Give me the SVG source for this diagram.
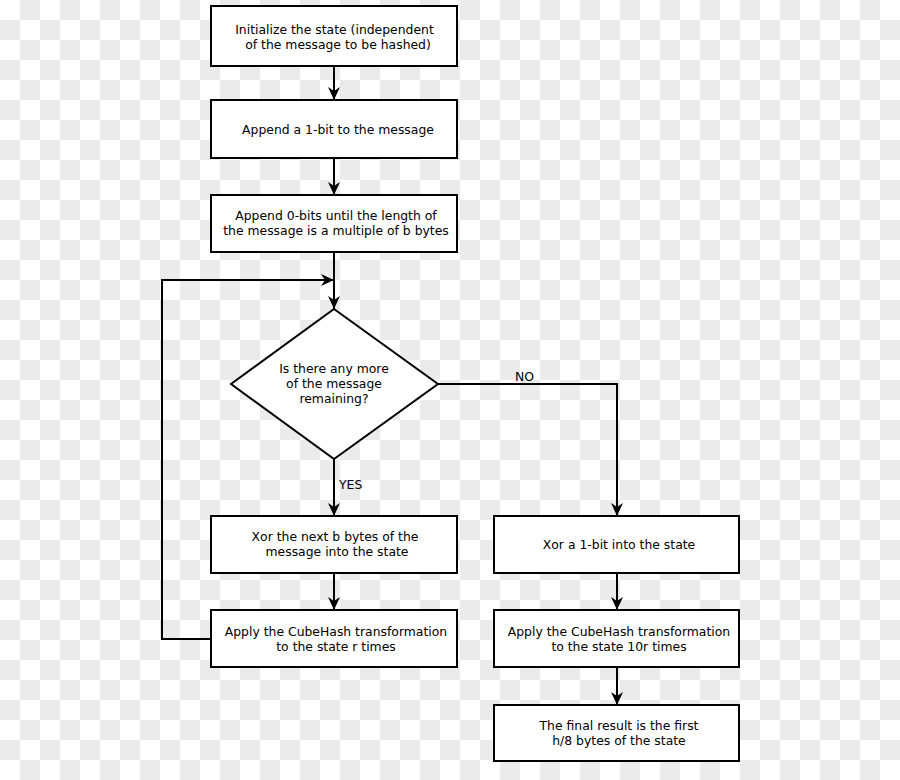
<svg xmlns="http://www.w3.org/2000/svg" width="900" height="780" viewBox="0 0 900 780">
<defs>
<pattern id="chk" width="40" height="40" patternUnits="userSpaceOnUse">
<rect width="40" height="40" fill="#ffffff"/>
<rect x="20" y="0" width="20" height="20" fill="#ebebeb"/>
<rect x="0" y="20" width="20" height="20" fill="#ebebeb"/>
</pattern>
<marker id="arr" markerUnits="userSpaceOnUse" viewBox="-14 -7 14 14" refX="0" refY="0" markerWidth="14" markerHeight="14" orient="auto">
<path d="M0,0 L-13,-6 L-9,0 L-13,6 Z" fill="#000"/>
</marker>
<style>
.box{fill:#fff;stroke:#000;stroke-width:2}
.t{font-family:"DejaVu Sans",sans-serif;font-size:12.4px;fill:#000;text-anchor:middle}
.l{font-family:"DejaVu Sans",sans-serif;font-size:12.4px;fill:#000}
.c{fill:none;stroke:#000;stroke-width:2}
</style>
</defs>
<rect width="900" height="780" fill="url(#chk)"/>
<g id="connectors">
<line class="c" x1="334" y1="66" x2="334" y2="100" marker-end="url(#arr)"/>
<line class="c" x1="334" y1="158" x2="334" y2="195" marker-end="url(#arr)"/>
<line class="c" x1="334" y1="252" x2="334" y2="309" marker-end="url(#arr)"/>
<polyline class="c" points="211,639 162,639 162,280 334,280" marker-end="url(#arr)"/>
<line class="c" x1="334" y1="459" x2="334" y2="516" marker-end="url(#arr)"/>
<polyline class="c" points="438,384 617,384 617,516" marker-end="url(#arr)"/>
<line class="c" x1="334" y1="573" x2="334" y2="610" marker-end="url(#arr)"/>
<line class="c" x1="617" y1="573" x2="617" y2="610" marker-end="url(#arr)"/>
<line class="c" x1="617" y1="667" x2="617" y2="705" marker-end="url(#arr)"/>
<text class="l" x="515" y="381">NO</text>
<text class="l" x="339" y="489">YES</text>
</g>
<g id="init">
<rect class="box" x="211" y="6" width="246" height="60"/>
<text class="t" x="334.5" y="34">Initialize the state (independent</text>
<text class="t" x="338" y="49">of the message to be hashed)</text>
</g>
<g id="append1">
<rect class="box" x="211" y="100" width="246" height="58"/>
<text class="t" x="338" y="134">Append a 1-bit to the message</text>
</g>
<g id="append0">
<rect class="box" x="211" y="195" width="246" height="57"/>
<text class="t" x="336" y="220">Append 0-bits until the length of</text>
<text class="t" x="336" y="235">the message is a multiple of b bytes</text>
</g>
<g id="decision">
<polygon class="box" points="334,309 438,384 334,459 231,384"/>
<text class="t" x="334" y="373">Is there any more</text>
<text class="t" x="334" y="388">of the message</text>
<text class="t" x="334" y="403">remaining?</text>
</g>
<g id="xornext">
<rect class="box" x="211" y="516" width="246" height="57"/>
<text class="t" x="335" y="541">Xor the next b bytes of the</text>
<text class="t" x="337" y="556">message into the state</text>
</g>
<g id="applyr">
<rect class="box" x="211" y="610" width="246" height="57"/>
<text class="t" x="336" y="636">Apply the CubeHash transformation</text>
<text class="t" x="336" y="651">to the state r times</text>
</g>
<g id="xor1">
<rect class="box" x="494" y="516" width="245" height="57"/>
<text class="t" x="619" y="549">Xor a 1-bit into the state</text>
</g>
<g id="apply10r">
<rect class="box" x="494" y="610" width="245" height="57"/>
<text class="t" x="619" y="636">Apply the CubeHash transformation</text>
<text class="t" x="619" y="651">to the state 10r times</text>
</g>
<g id="final">
<rect class="box" x="494" y="705" width="245" height="56"/>
<text class="t" x="619" y="730">The final result is the first</text>
<text class="t" x="619" y="745">h/8 bytes of the state</text>
</g>
</svg>
